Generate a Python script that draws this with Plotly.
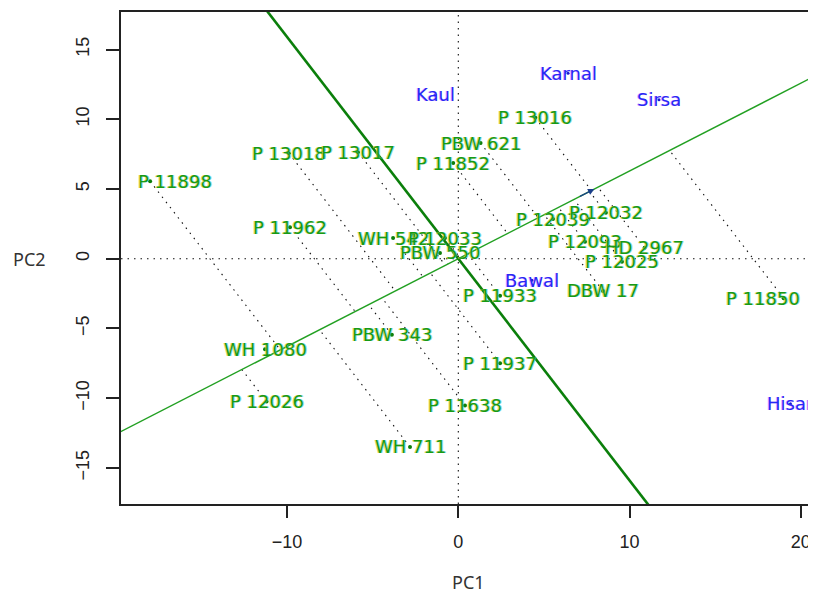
import numpy as np
import plotly.graph_objects as go

# ---------------- data ----------------
genotypes = ["P 11898", "P 13018", "P 13017", "P 11962", "PBW 621", "P 11852",
             "P 13016", "P 12039", "P 12032", "P 12093", "HD 2967", "P 12025",
             "DBW 17", "P 11850", "P 11933", "P 11937", "P 11638", "WH 711",
             "P 12026", "WH 1080", "PBW 343", "WH 542", "P 12033", "PBW 550"]
g_pc1 = [-18.0, -9.9, -5.86, -9.83, 1.3, -0.3,
         4.5, 5.53, 8.62, 7.4, 10.88, 9.56,
         8.45, 19.0, 2.44, 2.44, 0.39, -2.82,
         -11.2, -11.29, -3.88, -3.81, -0.78, -1.07]
g_pc2 = [5.55, 7.57, 7.64, 2.26, 8.29, 6.86,
         10.1, 2.84, 3.29, 1.21, 0.79, -0.21,
         -2.31, -2.83, -2.66, -7.5, -10.52, -13.5,
         -10.24, -6.5, -5.45, 1.48, 1.48, 0.41]

environments = ["Kaul", "Karnal", "Sirsa", "Bawal", "Hisar"]
e_pc1 = [-1.36, 6.41, 11.72, 4.3, 19.4]
e_pc2 = [11.74, 13.29, 11.39, -1.54, -10.4]

avg_env = [7.95, 5.0]          # average-environment arrow tip

x_ticks = [-10, 0, 10, 20]
y_ticks = [-15, -10, -5, 0, 5, 10, 15]

# ---------------- styles ----------------
label_shift_px = {"P 11898": 25, "P 11850": -21}
GREEN_TXT = "#169a16"
BLUE_TXT = "#2727f5"
X_RANGE = [-19.70, 20.89]
Y_RANGE = [-17.59, 17.69]
DOTS = "1.5px,5px"

g1 = np.array(g_pc1)
g2 = np.array(g_pc2)
u = np.array(avg_env) / np.linalg.norm(avg_env)   # ATC direction
v = np.array([-u[1], u[0]])                         # ATC ordinate

fig = go.Figure()

# dotted projections of genotypes onto the ATC abscissa
px_, py_ = [], []
for a, b in zip(g1, g2):
    t = a * u[0] + b * u[1]
    px_ += [a, t * u[0], None]
    py_ += [b, t * u[1], None]
fig.add_trace(go.Scatter(x=px_, y=py_, mode="lines",
                         line=dict(color="#111111", width=1.1, dash=DOTS),
                         hoverinfo="skip", showlegend=False))

# ATC abscissa (thin) and ordinate (thick)
T = np.array([-60, 60])
fig.add_trace(go.Scatter(x=T * u[0], y=T * u[1], mode="lines",
                         line=dict(color="#22a022", width=1.4),
                         hoverinfo="skip", showlegend=False))
fig.add_trace(go.Scatter(x=T * v[0], y=T * v[1], mode="lines",
                         line=dict(color="#0b7f0b", width=2.6),
                         hoverinfo="skip", showlegend=False))

# genotype points
fig.add_trace(go.Scatter(x=g1, y=g2, mode="markers",
                         marker=dict(color="#0b7f0b", size=4),
                         hoverinfo="text", text=genotypes, showlegend=False))
# environment points
fig.add_trace(go.Scatter(x=e_pc1, y=e_pc2, mode="markers",
                         marker=dict(color="#1a1ad0", size=3),
                         hoverinfo="text", text=environments, showlegend=False))

annotations = []
shadow = "-1px 0px 0px rgba(225,205,60,0.75), 1px 0px 0px rgba(70,200,230,0.55)"
for name, a, b in zip(genotypes, g_pc1, g_pc2):
    annotations.append(dict(x=a, y=b, xref="x", yref="y", text=name,
                            showarrow=False, xshift=label_shift_px.get(name, 0),
                            font=dict(family="DejaVu Sans", size=18, color=GREEN_TXT,
                                      shadow=shadow)))
for name, a, b in zip(environments, e_pc1, e_pc2):
    annotations.append(dict(x=a, y=b, xref="x", yref="y", text=name,
                            showarrow=False,
                            font=dict(family="DejaVu Sans", size=18, color=BLUE_TXT,
                                      shadow="-1px 0px 0px rgba(200,120,255,0.6)")))

# average environment arrow
annotations.append(dict(x=avg_env[0], y=avg_env[1], xref="x", yref="y",
                        ax=avg_env[0] - 1.1 * u[0], ay=avg_env[1] - 1.1 * u[1],
                        axref="x", ayref="y", text="", showarrow=True,
                        arrowhead=2, arrowsize=1, arrowwidth=1.3,
                        arrowcolor="#1b3f8a"))

# axis titles
annotations.append(dict(x=0.5, y=-0.158, xref="paper", yref="paper", text="PC1",
                        showarrow=False, xanchor="center", yanchor="middle",
                        font=dict(family="Noto Sans", size=18, color="#333333")))
annotations.append(dict(x=-0.131, y=0.498, xref="paper", yref="paper", text="PC2",
                        showarrow=False, xanchor="center", yanchor="middle",
                        font=dict(family="Noto Sans", size=18, color="#333333")))

shapes = [
    dict(type="line", xref="paper", yref="y", x0=0, x1=1, y0=0, y1=0,
         line=dict(color="#111111", width=1.1, dash=DOTS), layer="below"),
    dict(type="line", xref="x", yref="paper", x0=0, x1=0, y0=0, y1=1,
         line=dict(color="#111111", width=1.1, dash=DOTS), layer="below"),
]

fig.update_layout(
    width=816, height=596,
    margin=dict(l=113, r=8, t=2, b=100),
    paper_bgcolor="white", plot_bgcolor="white",
    annotations=annotations, shapes=shapes,
    xaxis=dict(range=X_RANGE, tickvals=x_ticks, ticks="outside", ticklen=12,
               tickwidth=1.5, tickcolor="#222222", showline=True, linewidth=2.2,
               linecolor="#222222", mirror=True, showgrid=False, zeroline=False,
               ticklabelstandoff=8,
               tickfont=dict(family="Liberation Sans", size=18, color="#222222")),
    yaxis=dict(range=Y_RANGE, tickvals=y_ticks, ticks="outside", ticklen=13,
               tickwidth=1.5, tickcolor="#222222", showline=True, linewidth=2.2,
               linecolor="#222222", showgrid=False, zeroline=False, tickangle=-90,
               ticklabelstandoff=10,
               tickfont=dict(family="Liberation Sans", size=18, color="#222222")),
)

fig.write_html("out.html")
